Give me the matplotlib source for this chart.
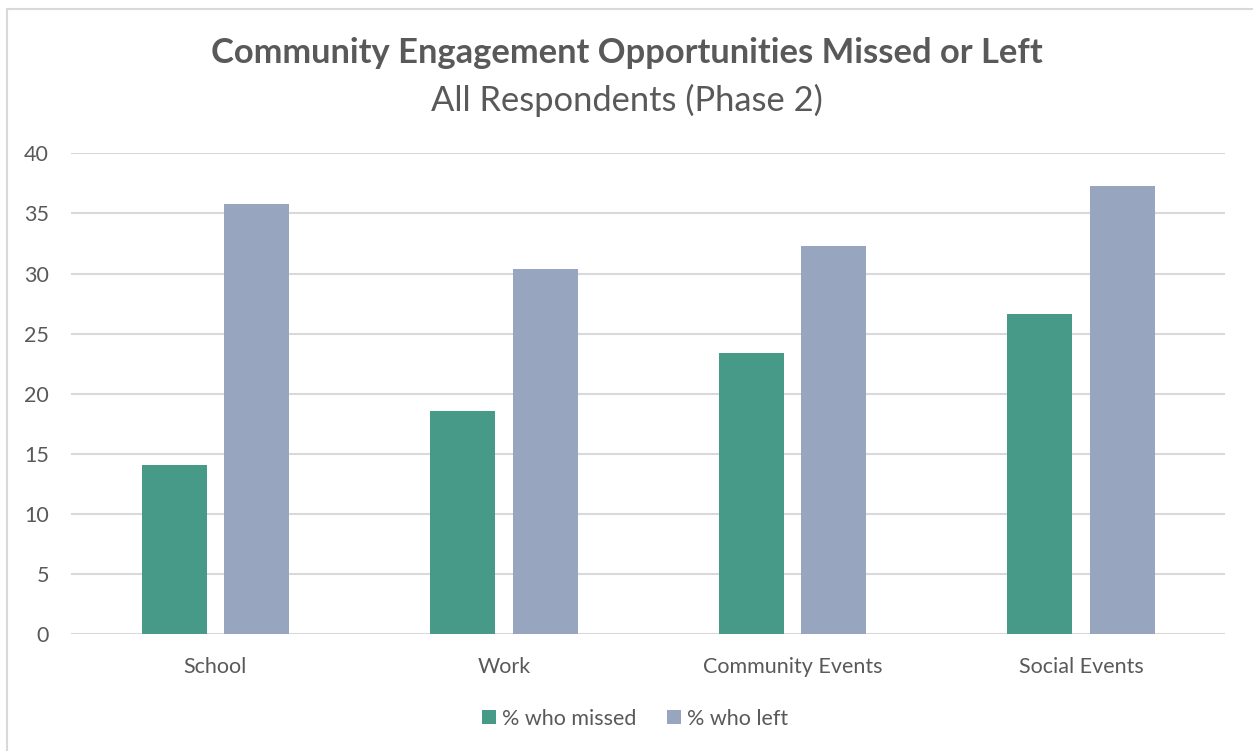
import matplotlib.pyplot as plt
import numpy as np
from matplotlib.patches import Rectangle

categories = ["School", "Work", "Community Events", "Social Events"]
pct_missed = [14.1, 18.6, 23.4, 26.6]
pct_left = [35.8, 30.4, 32.3, 37.3]
series_labels = ["% who missed", "% who left"]
yticks = [0, 5, 10, 15, 20, 25, 30, 35, 40]

green = "#469A87"
slate = "#97A5BF"
text_gray = "#595959"
grid_gray = "#D9D9D9"

plt.rcParams["font.family"] = ["Lato", "DejaVu Sans"]

fig = plt.figure(figsize=(12.53, 7.51), dpi=100)
ax = fig.add_axes([0.0567, 0.1554, 0.9213, 0.6405])

x = np.arange(len(categories))
width = 0.225
offset = 0.143
ax.bar(x - offset, pct_missed, width, color=green, label=series_labels[0], zorder=3)
ax.bar(x + offset, pct_left, width, color=slate, label=series_labels[1], zorder=3)

ax.set_xlim(-0.5, len(categories) - 0.5)
ax.set_ylim(0, 40)
ax.set_yticks(yticks)
ax.set_xticks(x)
ax.set_xticklabels(categories)
ax.tick_params(axis="both", length=0, labelsize=15.5, colors=text_gray)
ax.tick_params(axis="y", pad=16)
ax.tick_params(axis="x", pad=16)
ax.yaxis.grid(True, color=grid_gray, linewidth=1.5, zorder=0)
for side in ["top", "right", "left", "bottom"]:
    ax.spines[side].set_visible(False)

fig.text(0.5, 0.929, "Community Engagement Opportunities Missed or Left",
         ha="center", va="center", fontsize=24.8, fontweight="bold", color=text_gray)
fig.text(0.5, 0.866, "All Respondents (Phase 2)",
         ha="center", va="center", fontsize=24.8, color=text_gray)

fig.legend(loc="center", bbox_to_anchor=(0.507, 0.043), ncol=2, frameon=False,
           fontsize=15.5, labelcolor=text_gray, handlelength=0.65, handleheight=0.65,
           handletextpad=0.3, columnspacing=1.4)

# outer chart frame
fig.patches.append(Rectangle((7 / 1253, -0.01), 1.05, 1 - 9 / 751 + 0.01,
                             transform=fig.transFigure, fill=False,
                             edgecolor=grid_gray, linewidth=1.5))

fig.savefig("out.png", dpi=100)
